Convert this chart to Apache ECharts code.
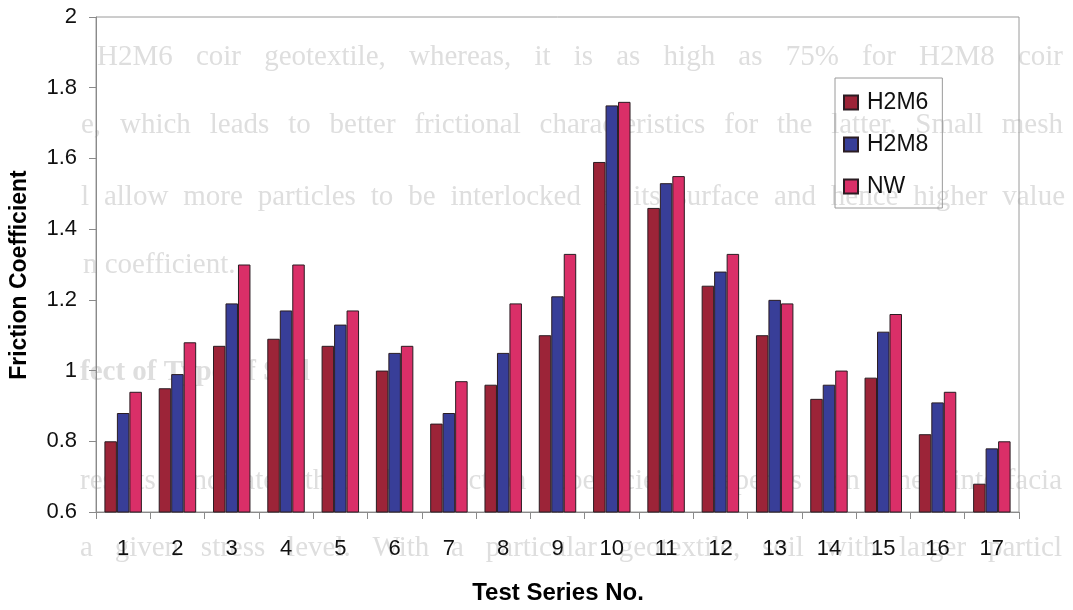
<!DOCTYPE html>
<html>
<head>
<meta charset="utf-8">
<script src="https://cdn.jsdelivr.net/npm/echarts@6/dist/echarts.min.js"></script>
<style>
  html, body { margin: 0; padding: 0; background: #ffffff; }
  #chart { width: 1073px; height: 610px; }
</style>
</head>
<body>
<div id="chart"></div>
<script>
// Test series and measured friction coefficients per geotextile
const categories = ['1','2','3','4','5','6','7','8','9','10','11','12','13','14','15','16','17'];
const h2m6 = [0.80, 0.95, 1.07, 1.09, 1.07, 1.00, 0.85, 0.96, 1.10, 1.59, 1.46, 1.24, 1.10, 0.92, 0.98, 0.82, 0.68];
const h2m8 = [0.88, 0.99, 1.19, 1.17, 1.13, 1.05, 0.88, 1.05, 1.21, 1.75, 1.53, 1.28, 1.20, 0.96, 1.11, 0.91, 0.78];
const nw   = [0.94, 1.08, 1.30, 1.30, 1.17, 1.07, 0.97, 1.19, 1.33, 1.76, 1.55, 1.33, 1.19, 1.00, 1.16, 0.94, 0.80];
const seriesNames = ['H2M6', 'H2M8', 'NW'];
const seriesColors = ['#9c2438', '#383e98', '#da2f68'];

// Page text printed on the sheet behind the figure
const pageLines = [
  { text: 'H2M6 coir geotextile, whereas, it is as high as 75% for H2M8 coir', x0: 97, x1: 1063, y: 57, justify: true },
  { text: 'e, which leads to better frictional characteristics for the latter. Small mesh', x0: 81, x1: 1063, y: 125, justify: true },
  { text: 'l allow more particles to be interlocked in its surface and hence higher value', x0: 81, x1: 1065, y: 197, justify: true },
  { text: 'n coefficient.', x0: 83, x1: 0, y: 265, justify: false },
  { text: 'fect of Type of Soil', x0: 80, x1: 0, y: 373, justify: false, bold: true },
  { text: 'results indicate that the friction coefficient depends on the interfacia', x0: 80, x1: 1062, y: 481, justify: true },
  { text: 'a given stress level. With a particular geotextile, soil with larger particl', x0: 80, x1: 1062, y: 548, justify: true }
];

const pageFontSize = 29;
const measureCtx = document.createElement('canvas').getContext('2d');

function pageTextElements() {
  const els = [];
  pageLines.forEach(function (ln) {
    const font = (ln.bold ? 'bold ' : '') + pageFontSize + 'px "Liberation Serif", "DejaVu Serif", serif';
    measureCtx.font = font;
    const words = ln.text.split(' ');
    const widths = words.map(function (w) { return measureCtx.measureText(w).width; });
    const total = widths.reduce(function (a, b) { return a + b; }, 0);
    const space = measureCtx.measureText(' ').width;
    const gap = ln.justify && words.length > 1 ? (ln.x1 - ln.x0 - total) / (words.length - 1) : space;
    let x = ln.x0;
    words.forEach(function (w, i) {
      els.push({
        type: 'text',
        z: -10,
        silent: true,
        x: x,
        y: ln.y,
        style: {
          text: w,
          font: font,
          fill: '#dedede',
          textAlign: 'left',
          textVerticalAlign: 'middle'
        }
      });
      x += widths[i] + gap;
    });
  });
  return els;
}

const sansFont = '"Liberation Sans", Arial, Helvetica, sans-serif';

const chart = echarts.init(document.getElementById('chart'), null, { renderer: 'canvas' });

const option = {
  backgroundColor: '#ffffff',
  animation: false,
  grid: {
    left: 96,
    right: 54,
    top: 17,
    bottom: 98,
    show: true,
    borderColor: '#9a9a9a',
    borderWidth: 1,
    backgroundColor: 'transparent'
  },
  legend: {
    orient: 'vertical',
    left: 835,
    top: 78,
    padding: [13, 14, 10, 8],
    itemWidth: 14,
    itemHeight: 14,
    itemGap: 19,
    icon: 'rect',
    borderColor: '#9a9a9a',
    borderWidth: 1,
    backgroundColor: 'transparent',
    data: seriesNames,
    textStyle: {
      fontFamily: sansFont,
      fontSize: 23,
      color: '#111111',
      padding: [0, 0, 0, 4]
    }
  },
  xAxis: {
    type: 'category',
    data: categories,
    boundaryGap: true,
    axisLine: { lineStyle: { color: '#8a8a8a', width: 1 } },
    axisTick: { show: true, length: 7, alignWithLabel: false, lineStyle: { color: '#8a8a8a' } },
    axisLabel: {
      fontFamily: sansFont,
      fontSize: 22,
      color: '#111111',
      margin: 26,
      interval: 0
    },
    splitLine: { show: false }
  },
  yAxis: {
    type: 'value',
    min: 0.6,
    max: 2,
    interval: 0.2,
    axisLine: { show: true, lineStyle: { color: '#8a8a8a', width: 1 } },
    axisTick: { show: true, length: 7, lineStyle: { color: '#8a8a8a' } },
    axisLabel: {
      fontFamily: sansFont,
      fontSize: 22,
      color: '#111111',
      margin: 19,
      formatter: function (v) { return String(Math.round(v * 10) / 10); }
    },
    splitLine: { show: false }
  },
  graphic: pageTextElements().concat([
    {
      type: 'text',
      x: 20,
      y: 275,
      rotation: Math.PI / 2,
      style: {
        text: 'Friction Coefficient',
        font: 'bold 23px ' + sansFont,
        fill: '#000000',
        textAlign: 'center',
        textVerticalAlign: 'middle'
      }
    },
    {
      type: 'text',
      x: 558,
      y: 593,
      style: {
        text: 'Test Series No.',
        font: 'bold 24px ' + sansFont,
        fill: '#000000',
        textAlign: 'center',
        textVerticalAlign: 'middle'
      }
    }
  ]),
  series: [h2m6, h2m8, nw].map(function (vals, i) {
    return {
      name: seriesNames[i],
      type: 'bar',
      data: vals,
      barGap: '0%',
      barCategoryGap: '31%',
      z: 5,
      itemStyle: {
        color: seriesColors[i],
        borderColor: '#2a1c22',
        borderWidth: 1
      }
    };
  })
};

chart.setOption(option);
</script>
</body>
</html>
